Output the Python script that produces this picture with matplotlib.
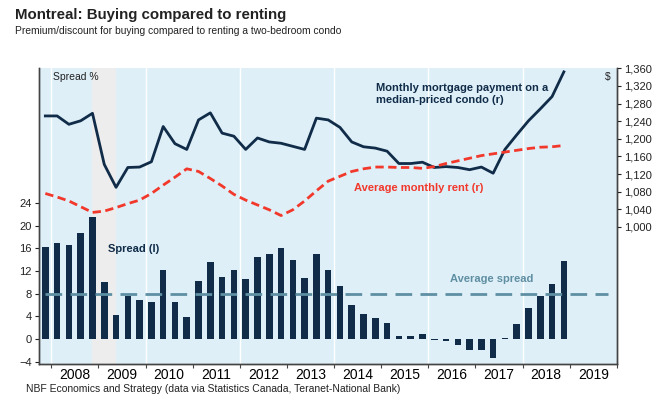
import matplotlib
matplotlib.use('Agg')
import matplotlib.pyplot as plt
import matplotlib.ticker as ticker
import numpy as np

plt.rcParams['font.family'] = ['Liberation Sans', 'DejaVu Sans']

# Quarterly data, 2007Q4 .. 2018Q4
START_YEAR = 2007
START_QUARTER = 4
spread = [16.2, 17.0, 16.6, 18.6, 21.5, 10.0, 4.2, 7.6, 6.9, 6.5,
          12.1, 6.6, 3.8, 10.2, 13.5, 11.0, 12.2, 10.6, 14.5, 14.9,
          16.0, 13.9, 10.8, 15.0, 12.1, 9.4, 6.0, 4.4, 3.7, 2.9,
          0.6, 0.6, 0.9, -0.1, -0.3, -1.0, -1.9, -1.9, -3.4, 0.2,
          2.7, 5.5, 7.6, 9.7, 13.8]
mortgage = [1252, 1252, 1233, 1241, 1258, 1142, 1090, 1135, 1136, 1148,
            1228, 1189, 1176, 1243, 1259, 1213, 1206, 1176, 1202, 1193,
            1190, 1183, 1176, 1247, 1243, 1226, 1193, 1182, 1179, 1172,
            1144, 1144, 1147, 1135, 1137, 1135, 1130, 1136, 1122, 1176,
            1209, 1241, 1268, 1296, 1352]
rent = [1076, 1068, 1059, 1046, 1033, 1036, 1044, 1053, 1061, 1076,
        1095, 1113, 1132, 1126, 1110, 1093, 1074, 1061, 1050, 1039,
        1026, 1039, 1059, 1082, 1104, 1115, 1126, 1132, 1136, 1136,
        1135, 1135, 1133, 1137, 1144, 1150, 1156, 1162, 1166, 1170,
        1174, 1178, 1181, 1182, 1185]
AVG_SPREAD = 8.0
recession = (2008.875, 2009.375)

years = list(range(2008, 2020))
left_ticks = [-4, 0, 4, 8, 12, 16, 20, 24]
right_ticks = list(range(1000, 1361, 40))

NAVY = '#102C48'
RED = '#F2382B'
STEEL = '#5F8FA2'
BG = '#DEEFF8'
BAND = '#EDEDED'
TXT = '#222222'

n = len(spread)
x = np.array([START_YEAR + (START_QUARTER - 1 + i) / 4 + 0.125 for i in range(n)])

fig = plt.figure(figsize=(6.72, 3.99), dpi=100)
ax = fig.add_axes([0.058, 0.0877, 0.86, 0.741])
ax2 = ax.twinx()

ax.set_facecolor(BG)
ax.axvspan(*recession, color=BAND, zorder=0, lw=0)
for yr in years[::2]:
    ax.axvline(yr, color='white', lw=1.0, zorder=0.5)

ax.bar(x, spread, width=0.14, color=NAVY, zorder=2)
ax.axhline(AVG_SPREAD, xmin=0.01, xmax=0.985, color=STEEL, lw=2,
           dashes=(6, 3), zorder=3)

ax2.plot(x, mortgage, color=NAVY, lw=2, zorder=3)
ax2.plot(x, rent, color=RED, lw=2, dashes=(3, 1.6), zorder=3)

ax.set_xlim(2007.74, 2019.75)
ax.set_ylim(-4.4, 47.7)
ax2.set_ylim(689, 1359)

ax.set_yticks(left_ticks)
ax2.set_yticks(right_ticks)
ax2.yaxis.set_major_formatter(ticker.FuncFormatter(lambda v, p: f'{int(v):,}'))

ax.set_xticks(years + [2020])
ax.set_xticklabels([])
ax.set_xticks([y + 0.5 for y in years], minor=True)
ax.set_xticklabels([str(y) for y in years], minor=True)
ax.tick_params(axis='x', which='minor', length=0, pad=3)
ax.tick_params(axis='x', which='major', length=3, color='#444444')

for a in (ax, ax2):
    a.tick_params(axis='y', labelsize=8, length=3, colors=TXT, pad=2)
    a.tick_params(axis='x', labelsize=8, labelcolor=TXT)
    a.spines['top'].set_visible(False)
    for s in ('left', 'right', 'bottom'):
        a.spines[s].set_color('#444444')
        a.spines[s].set_linewidth(1.0)

ax.text(0.024, 0.972, 'Spread %', transform=ax.transAxes, fontsize=7.5,
        color=TXT, va='center', ha='left')
ax.text(0.984, 0.972, '$', transform=ax.transAxes, fontsize=7.5,
        color=TXT, va='center', ha='center')
ax.text(0.584, 0.9125, 'Monthly mortgage payment on a\nmedian-priced condo (r)',
        transform=ax.transAxes, fontsize=8, fontweight='bold', color=NAVY,
        va='center', ha='left', linespacing=1.25, zorder=5)
ax.text(0.545, 0.594, 'Average monthly rent (r)', transform=ax.transAxes,
        fontsize=8, fontweight='bold', color=RED, va='center', ha='left')
ax.text(0.119, 0.389, 'Spread (l)', transform=ax.transAxes, fontsize=8,
        fontweight='bold', color=NAVY, va='center', ha='left')
ax.text(0.712, 0.2885, 'Average spread', transform=ax.transAxes, fontsize=8,
        fontweight='bold', color=STEEL, va='center', ha='left')

fig.text(15 / 672, 1 - 15 / 399, 'Montreal: Buying compared to renting',
         fontsize=10.8, fontweight='bold', color=TXT, va='center', ha='left')
fig.text(15 / 672, 1 - 31.5 / 399,
         'Premium/discount for buying compared to renting a two-bedroom condo',
         fontsize=7.4, color=TXT, va='center', ha='left')
fig.text(26 / 672, 1 - 389 / 399,
         'NBF Economics and Strategy (data via Statistics Canada, Teranet-National Bank)',
         fontsize=7.5, color=TXT, va='center', ha='left')

fig.savefig('out.png', dpi=100)
